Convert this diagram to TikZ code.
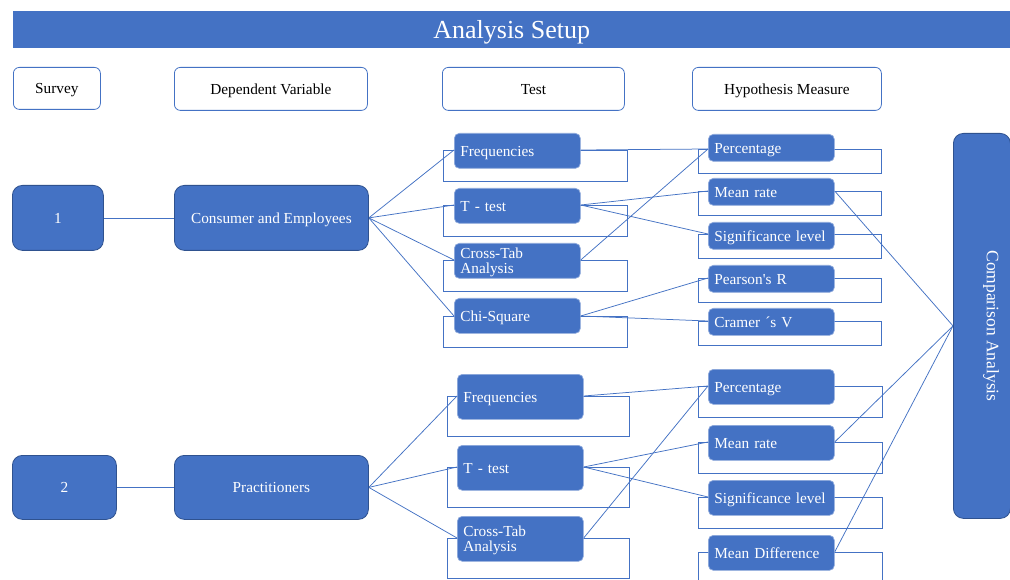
\documentclass[tikz,border=0pt]{standalone}
\usepackage{fontspec}
\setmainfont{Liberation Serif}
\usetikzlibrary{backgrounds}
\definecolor{blu}{HTML}{4472C4}
\definecolor{dblu}{HTML}{2F528F}
\definecolor{lblu}{HTML}{8FAADC}
\begin{document}
\begin{tikzpicture}[x=1pt,y=-1pt,
  txt/.style={font=\fontsize{15.3}{15}\selectfont, text height=11pt, text depth=0pt},
  hdr/.style={draw=blu, fill=white, rounded corners=6pt, line width=0.8pt, txt, anchor=north west, inner sep=0pt},
  bigbox/.style={draw=dblu, fill=blu, rounded corners=10pt, line width=0.8pt, text=white, txt, anchor=north west, inner sep=0pt},
  smallbox/.style={draw=lblu, fill=blu, rounded corners=5pt, line width=0.7pt, text=white, txt, anchor=north west, align=left, inner xsep=6pt, inner ysep=1pt, text width=114pt},
  twoline/.style={text height=, text depth=},
  outl/.style={draw=blu, line width=0.9pt, anchor=north west, inner sep=0pt},
  conn/.style={draw=blu, line width=0.75pt},
  ta/.style={smallbox, minimum height=35pt},
  tao/.style={outl, minimum width=184pt, minimum height=31pt},
  ha/.style={smallbox, minimum height=27pt},
  hao/.style={outl, minimum width=183pt, minimum height=24pt},
  tb/.style={smallbox, minimum height=45pt},
  tbo/.style={outl, minimum width=182pt, minimum height=40pt},
  hb/.style={smallbox, minimum height=35pt},
  hbo/.style={outl, minimum width=184pt, minimum height=31pt}]
\useasboundingbox (0,0) rectangle (1010,580);
% title
\node[fill=blu, anchor=north west, minimum width=997pt, minimum height=37pt, inner sep=0pt, text=white, font=\fontsize{26}{30}\selectfont, text depth=0pt] (title) at (13,11) {Analysis Setup};
% headers
\node[hdr, minimum width=87pt, minimum height=42pt] (hsurvey) at (13,67) {Survey};
\node[hdr, minimum width=193pt, minimum height=43pt] (hdep) at (174,67) {Dependent Variable};
\node[hdr, minimum width=182pt, minimum height=43pt] (htest) at (442,67) {Test};
\node[hdr, minimum width=189pt, minimum height=43pt] (hhyp) at (692,67) {Hypothesis Measure};
% survey / dependent variable
\node[bigbox, minimum width=91pt, minimum height=65pt] (n1) at (12,185) {1};
\node[bigbox, minimum width=194pt, minimum height=65pt] (ce) at (174,185) {Consumer and Employees};
\node[bigbox, minimum width=104pt, minimum height=64pt] (n2) at (12,455) {2};
\node[bigbox, minimum width=194pt, minimum height=64pt] (pr) at (174,455) {Practitioners};
% comparison
\node[bigbox, minimum width=57pt, minimum height=385pt] (ca) at (953,133) {};
\node[rotate=-90, text=white, font=\fontsize{17.5}{20}\selectfont] (catext) at (991,326) {Comparison Analysis};
% outline rectangles (group 1)
\node[tao] (fo1) at (443,150) {};
\node[tao] (to1) at (443,205) {};
\node[tao] (xo1) at (443,260) {};
\node[tao] (co1) at (443,316) {};
\node[hao] (po1) at (698,149) {};
\node[hao] (mo1) at (698,191) {};
\node[hao] (so1) at (698,234) {};
\node[hao] (ro1) at (698,278) {};
\node[hao] (vo1) at (698,321) {};
% outline rectangles (group 2)
\node[tbo] (fo2) at (447,396) {};
\node[tbo] (to2) at (447,467) {};
\node[tbo] (xo2) at (447,538) {};
\node[hbo] (po2) at (698,386) {};
\node[hbo] (mo2) at (698,442) {};
\node[hbo] (so2) at (698,497) {};
\node[hbo] (do2) at (698,552) {};
% tests group 1
\node[ta] (f1) at (454,133) {Frequencies};
\node[ta] (t1) at (454,188) {T - test};
\node[ta, twoline] (x1) at (454,243) {\rule{0pt}{13pt}Cross-Tab\\Analysis};
\node[ta] (c1) at (454,298) {Chi-Square};
% hypothesis group 1
\node[ha] (p1) at (708,134) {Percentage};
\node[ha] (m1) at (708,178) {Mean rate};
\node[ha] (s1) at (708,222) {Significance level};
\node[ha] (r1) at (708,265) {Pearson\textquotesingle s R};
\node[ha] (v1) at (708,308) {Cramer ´s V};
% tests group 2
\node[tb] (f2) at (457,374) {Frequencies};
\node[tb] (t2) at (457,445) {T - test};
\node[tb, twoline] (x2) at (457,516) {\rule{0pt}{13pt}Cross-Tab\\Analysis};
% hypothesis group 2
\node[hb] (p2) at (708,369) {Percentage};
\node[hb] (m2) at (708,425) {Mean rate};
\node[hb] (s2) at (708,480) {Significance level};
\node[hb] (d2) at (708,535) {Mean Difference};
% connectors
\begin{pgfonlayer}{background}
\fill[white] (0,0) rectangle (1010,580);
\draw[conn] (n1.east) -- (ce.west);
\draw[conn] (n2.east) -- (pr.west);
\draw[conn] (ce.east) -- (f1.west |- fo1.north);
\draw[conn] (ce.east) -- (t1.west |- to1.north);
\draw[conn] (ce.east) -- (x1.west |- xo1.north);
\draw[conn] (ce.east) -- (c1.west |- co1.north);
\draw[conn] (pr.east) -- (f2.west |- fo2.north);
\draw[conn] (pr.east) -- (t2.west |- to2.north);
\draw[conn] (pr.east) -- (x2.west |- xo2.north);
\draw[conn] (f1.east |- fo1.north) -- (p1.west |- po1.north);
\draw[conn] (t1.east |- to1.north) -- (m1.west |- mo1.north);
\draw[conn] (t1.east |- to1.north) -- (s1.west |- so1.north);
\draw[conn] (x1.east |- xo1.north) -- (p1.west |- po1.north);
\draw[conn] (c1.east |- co1.north) -- (r1.west |- ro1.north);
\draw[conn] (c1.east |- co1.north) -- (v1.west |- vo1.north);
\draw[conn] (f2.east |- fo2.north) -- (p2.west |- po2.north);
\draw[conn] (t2.east |- to2.north) -- (m2.west |- mo2.north);
\draw[conn] (t2.east |- to2.north) -- (s2.west |- so2.north);
\draw[conn] (x2.east |- xo2.north) -- (p2.west |- po2.north);
\draw[conn] (m1.east |- mo1.north) -- (ca.west);
\draw[conn] (m2.east |- mo2.north) -- (ca.west);
\draw[conn] (d2.east |- do2.north) -- (ca.west);
\end{pgfonlayer}
\end{tikzpicture}
\end{document}
